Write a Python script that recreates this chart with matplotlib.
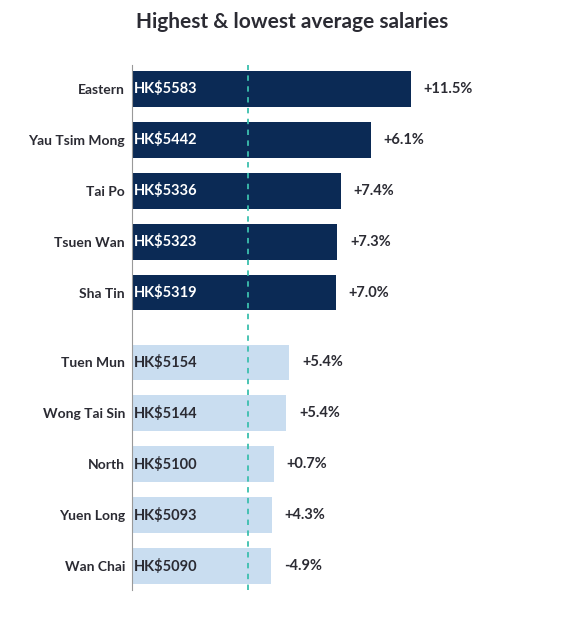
import matplotlib.pyplot as plt

plt.rcParams['font.family'] = ['Lato', 'DejaVu Sans']

districts = ['Eastern', 'Yau Tsim Mong', 'Tai Po', 'Tsuen Wan', 'Sha Tin',
             'Tuen Mun', 'Wong Tai Sin', 'North', 'Yuen Long', 'Wan Chai']
salaries = [5583, 5442, 5336, 5323, 5319, 5154, 5144, 5100, 5093, 5090]
changes = ['+11.5%', '+6.1%', '+7.4%', '+7.3%', '+7.0%',
           '+5.4%', '+5.4%', '+0.7%', '+4.3%', '-4.9%']
average = 5008
base = 4600

ypos = [0, 1, 2, 3, 4, 5.37, 6.37, 7.37, 8.37, 9.37]
navy = '#0b2a55'
light = '#c9ddf0'
text_dark = '#2b2b33'

fig = plt.figure(figsize=(5.85, 6.19), dpi=100)
ax = fig.add_axes([132/585, 1-590/619, 420/585, 525/619])

for i, (d, s, c, y) in enumerate(zip(districts, salaries, changes, ypos)):
    col = navy if i < 5 else light
    tcol = 'white' if i < 5 else text_dark
    ax.barh(y, s - base, left=base, height=0.7, color=col, zorder=2)
    ax.text(base + 8, y, f'HK${s}', color=tcol, fontsize=10.5, fontweight='bold',
            va='center', ha='left', zorder=3)
    ax.text(s + 45, y, c, color=text_dark, fontsize=10.5, fontweight='bold',
            va='center', ha='left')

ax.axvline(average, color='#3cbfae', linestyle=(0, (3, 3)), linewidth=1.3, zorder=4)

ax.set_xlim(base, 6080)
ax.set_ylim(9.84, -0.47)
ax.set_yticks(ypos)
ax.set_yticklabels(districts, fontsize=10, fontweight='bold', color=text_dark)
ax.tick_params(axis='y', length=0, pad=5)
ax.set_xticks([])
for s in ['top', 'right', 'bottom']:
    ax.spines[s].set_visible(False)
ax.spines['left'].set_color('#999999')
ax.spines['left'].set_linewidth(0.8)

fig.text(0.5, 1-22/619, 'Highest & lowest average salaries', ha='center', va='center',
         fontsize=15, fontweight='bold', color=text_dark)

fig.savefig('out.png', dpi=100, facecolor='white')
